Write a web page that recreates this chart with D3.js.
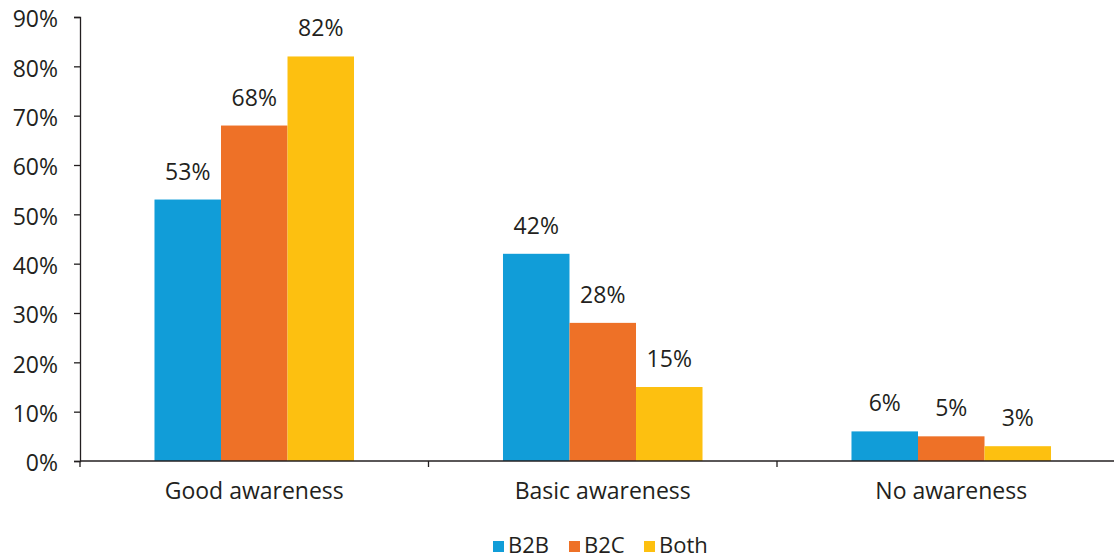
<!DOCTYPE html>
<html>
<head>
<meta charset="utf-8">
<script src="https://cdn.jsdelivr.net/npm/d3@7"></script>
<style>
  html, body { margin: 0; padding: 0; background: #fff; }
  svg { display: block; }
  text { font-family: "Open Sans", "Noto Sans", sans-serif; fill: #231f20; }
</style>
</head>
<body>
<svg id="chart" width="1114" height="560"></svg>
<script>
// Share of respondents by awareness level, split by business type
const categories = ["Good awareness", "Basic awareness", "No awareness"];
const seriesNames = ["B2B", "B2C", "Both"];
const b2b  = [53, 42, 6];
const b2c  = [68, 28, 5];
const both = [82, 15, 3];
const yTicks = [0, 10, 20, 30, 40, 50, 60, 70, 80, 90];
const colors = ["#119dd8", "#ee7127", "#fdc010"];

const seriesValues = [b2b, b2c, both];
const rows = categories.map((c, i) => ({
  category: c,
  values: seriesNames.map((s, j) => ({ series: s, value: seriesValues[j][i] }))
}));

const svg = d3.select("#chart");
const plotLeft = 80, plotTop = 17, plotBottom = 461, catStep = 348.5;
const fontSize = "23px";

const x0 = d3.scaleBand()
  .domain(categories)
  .range([plotLeft, plotLeft + catStep * categories.length])
  .padding(0);

const x1 = d3.scaleBand()
  .domain(seriesNames)
  .range([0, x0.bandwidth()])
  .paddingInner(0)
  .paddingOuter(1.12);

const y = d3.scaleLinear().domain([0, 90]).range([plotBottom, plotTop]);

// bars
const groups = svg.append("g")
  .selectAll("g")
  .data(rows)
  .join("g")
  .attr("transform", d => `translate(${x0(d.category)},0)`);

groups.selectAll("rect")
  .data(d => d.values)
  .join("rect")
  .attr("x", d => x1(d.series))
  .attr("width", x1.bandwidth())
  .attr("y", d => y(d.value))
  .attr("height", d => y(0) - y(d.value))
  .attr("fill", (d, i) => colors[i]);

// value labels above each bar
groups.selectAll("text.val")
  .data(d => d.values)
  .join("text")
  .attr("class", "val")
  .attr("x", d => x1(d.series) + x1.bandwidth() / 2)
  .attr("y", d => y(d.value) - 20)
  .attr("text-anchor", "middle")
  .style("font-size", fontSize)
  .text(d => d.value + "%");

// y axis
const yAxis = svg.append("g")
  .attr("transform", `translate(${plotLeft},0)`)
  .call(d3.axisLeft(y).tickValues(yTicks).tickFormat(d => d + "%").tickSize(6).tickPadding(16));
yAxis.select(".domain").attr("stroke", "#231f20").attr("stroke-width", 1.3);
yAxis.selectAll(".tick line").attr("stroke", "#231f20").attr("stroke-width", 1.3);
yAxis.selectAll(".tick text")
  .attr("dy", "0.42em")
  .style("font-size", fontSize)
  .style("font-family", '"Open Sans", sans-serif')
  .attr("fill", "#231f20");

// x axis: baseline with ticks at category boundaries
const xg = svg.append("g").attr("transform", `translate(0,${plotBottom})`);
xg.append("line")
  .attr("x1", plotLeft).attr("x2", 1114)
  .attr("y1", 0).attr("y2", 0)
  .attr("stroke", "#231f20").attr("stroke-width", 1.5);
const boundaries = categories.map(c => x0(c)).concat([x0.range()[1]]);
xg.selectAll("line.tick")
  .data(boundaries)
  .join("line")
  .attr("class", "tick")
  .attr("x1", d => d).attr("x2", d => d)
  .attr("y1", 0).attr("y2", 6)
  .attr("stroke", "#231f20").attr("stroke-width", 1.3);
xg.selectAll("text")
  .data(categories)
  .join("text")
  .attr("x", d => x0(d) + x0.bandwidth() / 2)
  .attr("y", 38)
  .attr("text-anchor", "middle")
  .style("font-size", fontSize)
  .text(d => d);

// legend
const legend = svg.append("g").attr("transform", "translate(493,541)");
const legendX = [0, 76, 151];
const items = legend.selectAll("g")
  .data(seriesNames)
  .join("g")
  .attr("transform", (d, i) => `translate(${legendX[i]},0)`);
items.append("rect")
  .attr("width", 11).attr("height", 11)
  .attr("fill", (d, i) => colors[i]);
items.append("text")
  .attr("x", 15).attr("y", 12)
  .style("font-size", "22px")
  .text(d => d);
</script>
</body>
</html>
